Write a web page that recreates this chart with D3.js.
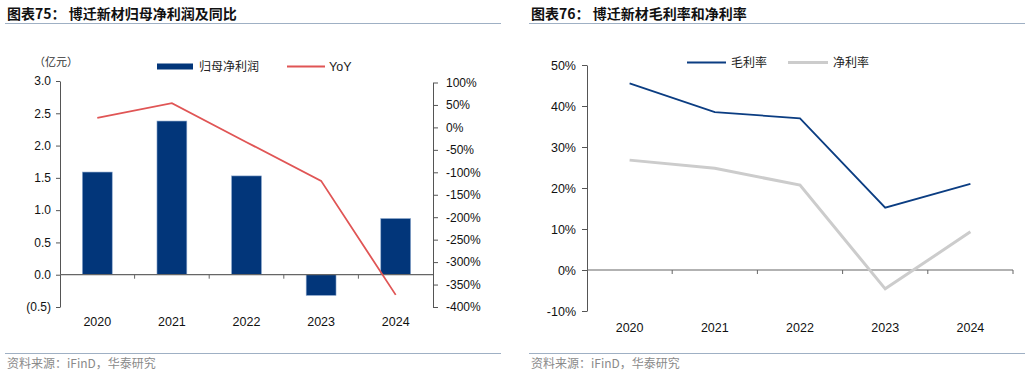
<!DOCTYPE html>
<html>
<head>
<meta charset="utf-8">
<script src="https://cdn.jsdelivr.net/npm/d3@7"></script>
<style>
  body { margin: 0; background: #fff; }
  text { font-family: "Liberation Sans", Arial, sans-serif; }
  .cn { font-family: "Noto Sans CJK SC", sans-serif; }
  .domain { stroke: #555; }
  .tick line { stroke: #555; }
</style>
</head>
<body>
<div id="chart-area"></div>
<script>
var years = ['2020', '2021', '2022', '2023', '2024']
var netProfit = [1.59, 2.38, 1.53, -0.32, 0.87]        // 亿元
var yoy = [21, 54, -33, -119, -373]                      // %
var grossMargin = [45.5, 38.5, 37.0, 15.2, 21.0]         // %
var netMargin = [26.8, 24.8, 20.7, -4.6, 9.3]            // %
var leftTicks = [-0.5, 0, 0.5, 1, 1.5, 2, 2.5, 3]
var yoyTicks = [100, 50, 0, -50, -100, -150, -200, -250, -300, -350, -400]
var marginTicks = [-10, 0, 10, 20, 30, 40, 50]

var svg = d3.select('#chart-area').append('svg')
    .attr('width', 1030)
    .attr('height', 377)

// headers and footers
function frame(x0, x1, title) {
    svg.append('text').attr('x', x0 + 2).attr('y', 19)
        .attr('font-size', '14px').attr('font-weight', 'bold').attr('fill', '#111')
        .attr('class', 'cn').text(title)
    svg.append('line').attr('x1', x0).attr('x2', x1).attr('y1', 23.5).attr('y2', 23.5)
        .attr('stroke', '#9fb0c4').attr('stroke-width', 1.2)
    svg.append('line').attr('x1', x0).attr('x2', x1).attr('y1', 353.5).attr('y2', 353.5)
        .attr('stroke', '#9fb0c4').attr('stroke-width', 1.2)
    svg.append('text').attr('x', x0 + 2).attr('y', 368)
        .attr('font-size', '12px').attr('fill', '#8a8a8a')
        .attr('class', 'cn').text('资料来源：iFinD，华泰研究')
}
frame(5, 501, '图表75：  博迁新材归母净利润及同比')
frame(529, 1025, '图表76：  博迁新材毛利率和净利率')

// ---------- left chart ----------
var L = { left: 60, right: 433, top: 81, bottom: 307 }
var g1 = svg.append('g')

var x1 = d3.scaleBand().domain(years).range([L.left, L.right]).paddingInner(0.6).paddingOuter(0.3)
var y1 = d3.scaleLinear().domain([-0.5, 3]).range([L.bottom, L.top])
var y1r = d3.scaleLinear().domain([-400, 100]).range([L.bottom, L.top + 1.5])

var fmtL = d => d < 0 ? '(' + Math.abs(d).toFixed(1) + ')' : d.toFixed(1)

g1.append('g').attr('transform', `translate(${L.left},0)`)
    .call(d3.axisLeft(y1).tickValues(leftTicks).tickFormat(fmtL).tickSize(4).tickSizeOuter(0).tickPadding(5))
    .call(a => a.selectAll('text').attr('font-size', '12px').attr('fill', '#111').attr('font-family', '"Liberation Sans", Arial'))

g1.append('g').attr('transform', `translate(${L.right},0)`)
    .call(d3.axisRight(y1r).tickValues(yoyTicks).tickFormat(d => d + '%').tickSize(5).tickSizeOuter(0).tickPadding(8))
    .call(a => a.selectAll('text').attr('font-size', '12px').attr('fill', '#111').attr('font-family', '"Liberation Sans", Arial'))

g1.append('text').attr('class', 'cn').attr('x', 56).attr('y', 66)
    .attr('text-anchor', 'middle').attr('font-size', '11px').attr('fill', '#333').text('（亿元）')

g1.selectAll('rect.bar').data(netProfit).enter().append('rect')
    .attr('class', 'bar')
    .attr('x', (d, i) => x1(years[i]))
    .attr('width', x1.bandwidth())
    .attr('y', d => y1(Math.max(0, d)))
    .attr('height', d => Math.abs(y1(d) - y1(0)))
    .attr('fill', '#02367a')
    .attr('stroke', '#8aa6cc').attr('stroke-width', 0.6)

// zero line with category ticks
var step1 = x1.step()
var bounds1 = d3.range(1, years.length + 1).map(i => L.left + i * step1 * (L.right - L.left) / (step1 * years.length))
g1.append('line').attr('x1', L.left).attr('x2', L.right).attr('y1', y1(0)).attr('y2', y1(0))
    .attr('stroke', '#666').attr('stroke-width', 1.2)
g1.selectAll('line.ct').data(bounds1.slice(0, -1)).enter().append('line').attr('class', 'ct')
    .attr('x1', d => d).attr('x2', d => d).attr('y1', y1(0)).attr('y2', y1(0) + 4)
    .attr('stroke', '#666')

g1.append('g').attr('transform', `translate(0,${L.bottom})`)
    .call(d3.axisBottom(x1).tickSize(0).tickPadding(10))
    .call(a => a.select('.domain').remove())
    .call(a => a.selectAll('text').attr('font-size', '12.5px').attr('fill', '#111').attr('font-family', '"Liberation Sans", Arial'))

g1.append('path').datum(yoy)
    .attr('fill', 'none').attr('stroke', '#e05555').attr('stroke-width', 1.8)
    .attr('d', d3.line().x((d, i) => x1(years[i]) + x1.bandwidth() / 2).y(d => y1r(d)))

// legend
var lg1 = g1.append('g')
lg1.append('rect').attr('x', 157).attr('y', 63.5).attr('width', 36).attr('height', 6).attr('fill', '#02367a')
lg1.append('text').attr('class', 'cn').attr('x', 199).attr('y', 71).attr('font-size', '12px').attr('fill', '#222').text('归母净利润')
lg1.append('line').attr('x1', 287).attr('x2', 325).attr('y1', 66.5).attr('y2', 66.5).attr('stroke', '#e05555').attr('stroke-width', 1.8)
lg1.append('text').attr('x', 329).attr('y', 71).attr('font-size', '12.5px').attr('fill', '#222').text('YoY')

// ---------- right chart ----------
var R = { left: 587, right: 1013, top: 65, bottom: 311 }
var g2 = svg.append('g')

var x2 = d3.scaleBand().domain(years).range([R.left, R.right]).padding(0)
var y2 = d3.scaleLinear().domain([-10, 50]).range([R.bottom, R.top])

g2.append('g').attr('transform', `translate(${R.left},0)`)
    .call(d3.axisLeft(y2).tickValues(marginTicks).tickFormat(d => d + '%').tickSize(5).tickSizeOuter(0).tickPadding(6))
    .call(a => a.selectAll('text').attr('font-size', '12.5px').attr('fill', '#111').attr('font-family', '"Liberation Sans", Arial'))

g2.append('line').attr('x1', R.left).attr('x2', R.right).attr('y1', y2(0)).attr('y2', y2(0))
    .attr('stroke', '#666').attr('stroke-width', 1.2)
g2.selectAll('line.ct').data(years).enter().append('line').attr('class', 'ct')
    .attr('x1', d => x2(d) + x2.step()).attr('x2', d => x2(d) + x2.step())
    .attr('y1', y2(0)).attr('y2', y2(0) + 4)
    .attr('stroke', '#666')

g2.append('g').attr('transform', `translate(0,${R.bottom})`)
    .call(d3.axisBottom(x2).tickSize(0).tickPadding(12))
    .call(a => a.select('.domain').remove())
    .call(a => a.selectAll('text').attr('font-size', '12.5px').attr('fill', '#111').attr('font-family', '"Liberation Sans", Arial'))

var line2 = d3.line().x((d, i) => x2(years[i]) + x2.bandwidth() / 2).y(d => y2(d))
g2.append('path').datum(netMargin)
    .attr('fill', 'none').attr('stroke', '#cccccc').attr('stroke-width', 3).attr('d', line2)
g2.append('path').datum(grossMargin)
    .attr('fill', 'none').attr('stroke', '#0b3d82').attr('stroke-width', 1.8).attr('d', line2)

var lg2 = g2.append('g')
lg2.append('line').attr('x1', 687).attr('x2', 726).attr('y1', 62.5).attr('y2', 62.5).attr('stroke', '#0b3d82').attr('stroke-width', 1.8)
lg2.append('text').attr('class', 'cn').attr('x', 731).attr('y', 67).attr('font-size', '12px').attr('fill', '#222').text('毛利率')
lg2.append('line').attr('x1', 788).attr('x2', 828).attr('y1', 62.5).attr('y2', 62.5).attr('stroke', '#cccccc').attr('stroke-width', 3)
lg2.append('text').attr('class', 'cn').attr('x', 833).attr('y', 67).attr('font-size', '12px').attr('fill', '#222').text('净利率')
</script>
</body>
</html>
